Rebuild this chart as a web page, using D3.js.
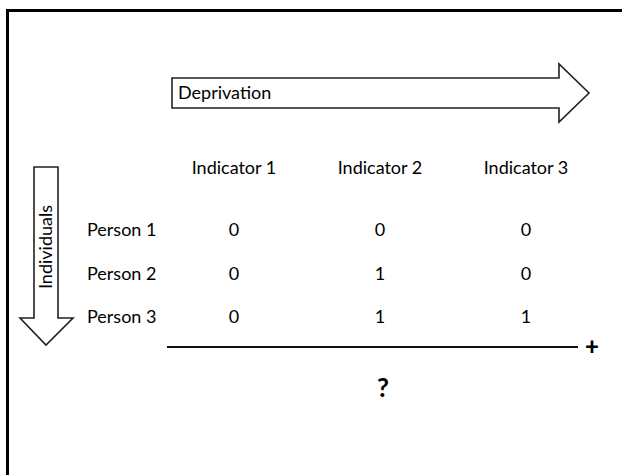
<!DOCTYPE html>
<meta charset="utf-8">
<style>
  body { margin: 0; background: #fff; }
  text { font-family: Lato, "Open Sans", sans-serif; fill: #000; }
</style>
<body>
<svg width="622" height="475"></svg>
<script src="https://d3js.org/d3.v7.min.js"></script>
<script>

var indicators = ["Indicator 1", "Indicator 2", "Indicator 3"];
var persons = ["Person 1", "Person 2", "Person 3"];
// deprivation scores, one row per person
var scores = [
  [0, 0, 0],
  [0, 1, 0],
  [0, 1, 1]
];

var svg = d3.select("svg");
var fs = "18px";

// outer frame, runs off the right and bottom edge
svg.append("rect")
  .attr("x", 7.5).attr("y", 10.5)
  .attr("width", 700).attr("height", 600)
  .attr("fill", "none")
  .attr("stroke", "#000")
  .attr("stroke-width", 3);

var x = d3.scalePoint().domain(indicators).range([234, 526]);
var y = d3.scalePoint().domain(persons).range([230, 317]);

// deprivation arrow (right)
var rArrow = [[172, 78], [559, 78], [559, 64], [589, 93], [559, 122], [559, 108], [172, 108]];
svg.append("path")
  .attr("d", d3.line()(rArrow) + "Z")
  .attr("fill", "#fff").attr("stroke", "#222").attr("stroke-width", 1.6);
svg.append("text")
  .attr("x", 178).attr("y", 93)
  .attr("dy", "0.35em")
  .style("font-size", fs)
  .text("Deprivation");

// individuals arrow (down)
var dArrow = [[34, 167], [58, 167], [58, 318], [73, 318], [46, 345], [20, 318], [34, 318]];
svg.append("path")
  .attr("d", d3.line()(dArrow) + "Z")
  .attr("fill", "#fff").attr("stroke", "#222").attr("stroke-width", 1.6);
svg.append("text")
  .attr("transform", "translate(46,247) rotate(-90)")
  .attr("text-anchor", "middle")
  .attr("dy", "0.35em")
  .style("font-size", fs)
  .text("Individuals");

// column headers
svg.selectAll(".hdr").data(indicators).enter().append("text")
  .attr("class", "hdr")
  .attr("x", function(d) { return x(d); })
  .attr("y", 168)
  .attr("dy", "0.35em")
  .attr("text-anchor", "middle")
  .style("font-size", fs)
  .text(function(d) { return d; });

// row labels
svg.selectAll(".row").data(persons).enter().append("text")
  .attr("class", "row")
  .attr("x", 87)
  .attr("y", function(d) { return y(d); })
  .attr("dy", "0.35em")
  .style("font-size", fs)
  .text(function(d) { return d; });

// cells
persons.forEach(function(p, i) {
  svg.selectAll(".c" + i).data(scores[i]).enter().append("text")
    .attr("x", function(d, j) { return x(indicators[j]); })
    .attr("y", y(p))
    .attr("dy", "0.35em")
    .attr("text-anchor", "middle")
    .style("font-size", fs)
    .text(function(d) { return d; });
});

// sum line
svg.append("line")
  .attr("x1", 167).attr("x2", 578)
  .attr("y1", 347).attr("y2", 347)
  .attr("stroke", "#111").attr("stroke-width", 2);
svg.append("text")
  .attr("x", 592).attr("y", 347)
  .attr("dy", "0.35em")
  .attr("text-anchor", "middle")
  .style("font-size", "24px").style("font-weight", "900")
  .text("+");
svg.append("text")
  .attr("x", x("Indicator 2") + 3).attr("y", 388)
  .attr("dy", "0.35em")
  .attr("text-anchor", "middle")
  .style("font-size", "26px").style("font-weight", "bold")
  .text("?");

</script>
</body>
